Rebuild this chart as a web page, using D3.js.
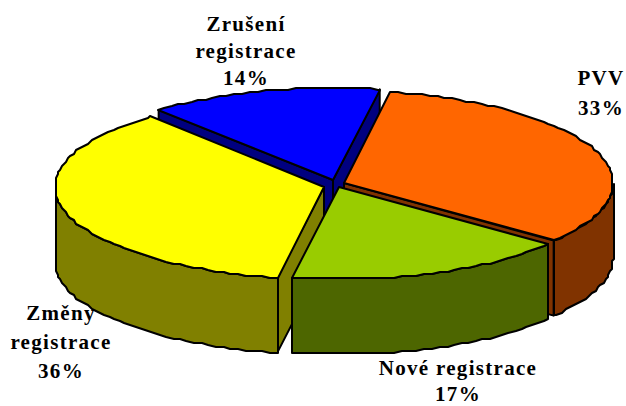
<!DOCTYPE html>
<html>
<head>
<meta charset="utf-8">
<script src="https://cdn.jsdelivr.net/npm/d3@7/dist/d3.min.js"></script>
<style>
body { margin: 0; background: white; }
</style>
</head>
<body>
<div id="graf"></div>
<script>
var width = 626,
    height = 406;

// data
var categories = ["PVV", "Nové registrace", "Změny registrace", "Zrušení registrace"];
var values = [33, 17, 36, 14];
var labelLines = [["PVV", "33%"], ["Nové registrace", "17%"], ["Změny", "registrace", "36%"], ["Zrušení", "registrace", "14%"]];

var topColors = ["#FF6600", "#99CC00", "#FFFF00", "#0000FF"];
var sideColors = ["#803300", "#4D6600", "#808000", "#000080"];

// exploded centre of each slice, and where its label sits
var centres = [[344, 183], [339, 187], [324, 187], [333, 180]];
var labelPos = [[601, 85], [458, 375], [61, 320], [246, 31]];
var labelStep = [30, 26, 29, 27];

var rx = 269,
    ry = 92,
    depth = 75,
    grid = 2;

var svg = d3.select("#graf").append("svg")
    .attr("width", width)
    .attr("height", height)
    .style("display", "block")
    .style("background-color", "white");

var pie = d3.pie()
    .sort(null)
    .startAngle(10 * Math.PI / 180)
    .endAngle(370 * Math.PI / 180);

var slices = pie(values);

// the rim of the original is stepped, so snap it to a coarse grid
function snap(v) {
    return Math.round(v / grid) * grid;
}

function rimPoints(c, a0, a1, dy) {
    var pts = d3.range(a0, a1, 0.03).concat([a1]);
    return pts.map(function(a) {
        return [snap(c[0] + rx * Math.sin(a)), snap(c[1] - ry * Math.cos(a)) + dy];
    });
}

var line = d3.line();

function addShape(g, pts, fill) {
    g.append("path")
        .attr("d", line(pts) + "Z")
        .attr("fill", fill)
        .attr("stroke", "black")
        .attr("stroke-width", 2)
        .attr("stroke-linejoin", "round");
}

function cutWall(g, c, a, fill) {
    var p = [c[0] + rx * Math.sin(a), c[1] - ry * Math.cos(a)];
    addShape(g, [c, p, [p[0], p[1] + depth], [c[0], c[1] + depth]], fill);
}

// back to front: blue, orange, yellow, green
[3, 0, 2, 1].forEach(function(i) {
    var s = slices[i],
        c = centres[i],
        g = svg.append("g").attr("class", "slice");

    if (Math.sin(s.startAngle) < 0) cutWall(g, c, s.startAngle, sideColors[i]);
    if (Math.sin(s.endAngle) > 0) cutWall(g, c, s.endAngle, sideColors[i]);

    var a0 = Math.max(s.startAngle, Math.PI / 2),
        a1 = Math.min(s.endAngle, Math.PI * 3 / 2);
    if (a1 > a0) {
        var up = rimPoints(c, a0, a1, 0),
            down = rimPoints(c, a0, a1, depth).reverse();
        addShape(g, up.concat(down), sideColors[i]);
    }

    addShape(g, [c].concat(rimPoints(c, s.startAngle, s.endAngle, 0)), topColors[i]);
});

labelLines.forEach(function(lines, i) {
    var t = svg.append("text")
        .attr("text-anchor", "middle")
        .attr("font-family", "'Liberation Serif', serif")
        .attr("font-weight", "bold")
        .style("font-size", "21px")
        .style("letter-spacing", "1.3px")
        .attr("fill", "black");
    lines.forEach(function(l, j) {
        t.append("tspan")
            .attr("x", labelPos[i][0])
            .attr("y", labelPos[i][1] + j * labelStep[i])
            .text(l);
    });
});
</script>
</body>
</html>
